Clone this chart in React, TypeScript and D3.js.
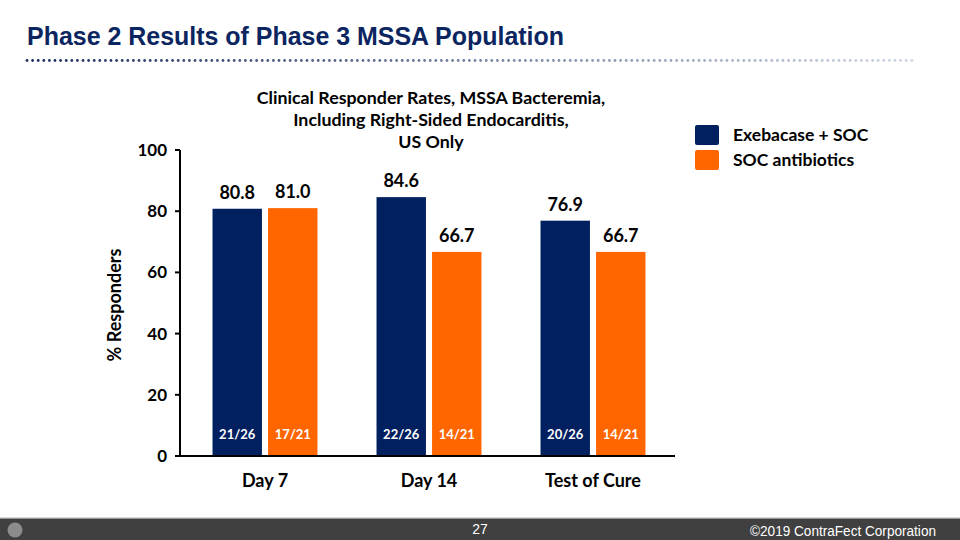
import React from "react";
import * as d3 from "d3";

const categories = ["Day 7", "Day 14", "Test of Cure"];
const seriesNames = ["Exebacase + SOC", "SOC antibiotics"];
const exebacase = [80.8, 84.6, 76.9];
const socAntibiotics = [81.0, 66.7, 66.7];
const exebacaseFractions = ["21/26", "22/26", "20/26"];
const socFractions = ["17/21", "14/21", "14/21"];
const yTicks = [0, 20, 40, 60, 80, 100];
const colors = ["#002060", "#FF6600"];

const FONT = "Lato, 'Open Sans', sans-serif";

export default function App() {
  const W = 960, H = 540;
  const x0 = 183, x1 = 675, yTop = 150, yBot = 456;
  const x = d3.scaleBand<string>().domain(categories).range([x0, x1]).paddingInner(0.36).paddingOuter(0.18);
  const xi = d3.scaleBand<string>().domain(seriesNames).range([0, x.bandwidth()]).paddingInner(0.11).paddingOuter(0);
  const y = d3.scaleLinear().domain([0, 100]).range([yBot, yTop]);
  const series = [exebacase, socAntibiotics];
  const fracs = [exebacaseFractions, socFractions];

  const dots = d3.range(27, 916, 5.6);

  return (
    <svg width={W} height={H} style={{ position: "absolute", left: 0, top: 0, background: "#fff" }}>
      <rect x={0} y={0} width={W} height={H} fill="#fff" />
      <text x={27} y={45} fontFamily="'Liberation Sans Narrow', 'Liberation Sans', Arial, sans-serif" fontWeight="bold" fontSize={25} fill="#0b2560" textLength={537} lengthAdjust="spacingAndGlyphs">
        Phase 2 Results of Phase 3 MSSA Population
      </text>
      {dots.map((d, i) => {
        const t = (d - 27) / (915 - 27);
        const c = d3.interpolateRgb("#1a2e5e", "#cfd6e4")(t);
        return <circle key={i} cx={d} cy={60.5} r={1.4} fill={c} />;
      })}

      {/* chart title */}
      <g fontFamily={FONT} fontWeight="bold" fontSize={17.8} fill="#000" textAnchor="middle">
        <text x={431} y={104}>Clinical Responder Rates, MSSA Bacteremia,</text>
        <text x={431} y={126}>Including Right-Sided Endocarditis,</text>
        <text x={431} y={148}>US Only</text>
      </g>

      {/* bars */}
      {categories.map((c, ci) => (
        <g key={c}>
          {seriesNames.map((s, si) => {
            const v = series[si][ci];
            const bx = (x(c) as number) + (xi(s) as number);
            const bw = xi.bandwidth();
            return (
              <g key={s}>
                <rect x={bx} y={y(v)} width={bw} height={yBot - y(v)} fill={colors[si]} />
                <text x={bx + bw / 2} y={y(v) - 10} textAnchor="middle" fontFamily={FONT} fontWeight="bold" fontSize={18} fill="#000">
                  {v.toFixed(1)}
                </text>
                <text x={bx + bw / 2} y={439} textAnchor="middle" fontFamily={FONT} fontWeight="bold" fontSize={13} fill="#fff">
                  {fracs[si][ci]}
                </text>
              </g>
            );
          })}
          <text x={(x(c) as number) + x.bandwidth() / 2} y={487} textAnchor="middle" fontFamily={FONT} fontWeight="bold" fontSize={18} fill="#000">
            {c}
          </text>
        </g>
      ))}

      {/* axes */}
      <line x1={180} x2={180} y1={yTop} y2={yBot} stroke="#000" strokeWidth={2} />
      <line x1={179} x2={x1} y1={yBot} y2={yBot} stroke="#000" strokeWidth={2} />
      {yTicks.map((t) => (
        <g key={t}>
          <line x1={175} x2={180} y1={y(t)} y2={y(t)} stroke="#000" strokeWidth={2} />
          <text x={167} y={y(t) + 6} textAnchor="end" fontFamily={FONT} fontWeight="bold" fontSize={17} fill="#000">
            {t}
          </text>
        </g>
      ))}
      <text transform={`translate(121,305) rotate(-90)`} textAnchor="middle" fontFamily={FONT} fontWeight="bold" fontSize={18} fill="#000">
        % Responders
      </text>

      {/* legend */}
      {seriesNames.map((s, i) => (
        <g key={s}>
          <rect x={695} y={125 + i * 25} width={24} height={20} rx={2} fill={colors[i]} />
          <text x={733} y={141 + i * 25} fontFamily={FONT} fontWeight="bold" fontSize={17.5} fill="#000">
            {s}
          </text>
        </g>
      ))}

      {/* footer */}
      <rect x={0} y={517} width={W} height={1.5} fill="#d9d9d9" />
      <rect x={0} y={518.5} width={W} height={H - 518.5} fill="#404040" />
      <circle cx={15} cy={530} r={7.5} fill="#8c8c8c" />
      <text x={480} y={534} textAnchor="middle" fontFamily="'Liberation Sans', Arial, sans-serif" fontSize={14} fill="#fff">
        27
      </text>
      <text x={936} y={536} textAnchor="end" fontFamily="'Liberation Sans', Arial, sans-serif" fontSize={14} fill="#fff" textLength={186} lengthAdjust="spacingAndGlyphs">
        ©2019 ContraFect Corporation
      </text>
    </svg>
  );
}
